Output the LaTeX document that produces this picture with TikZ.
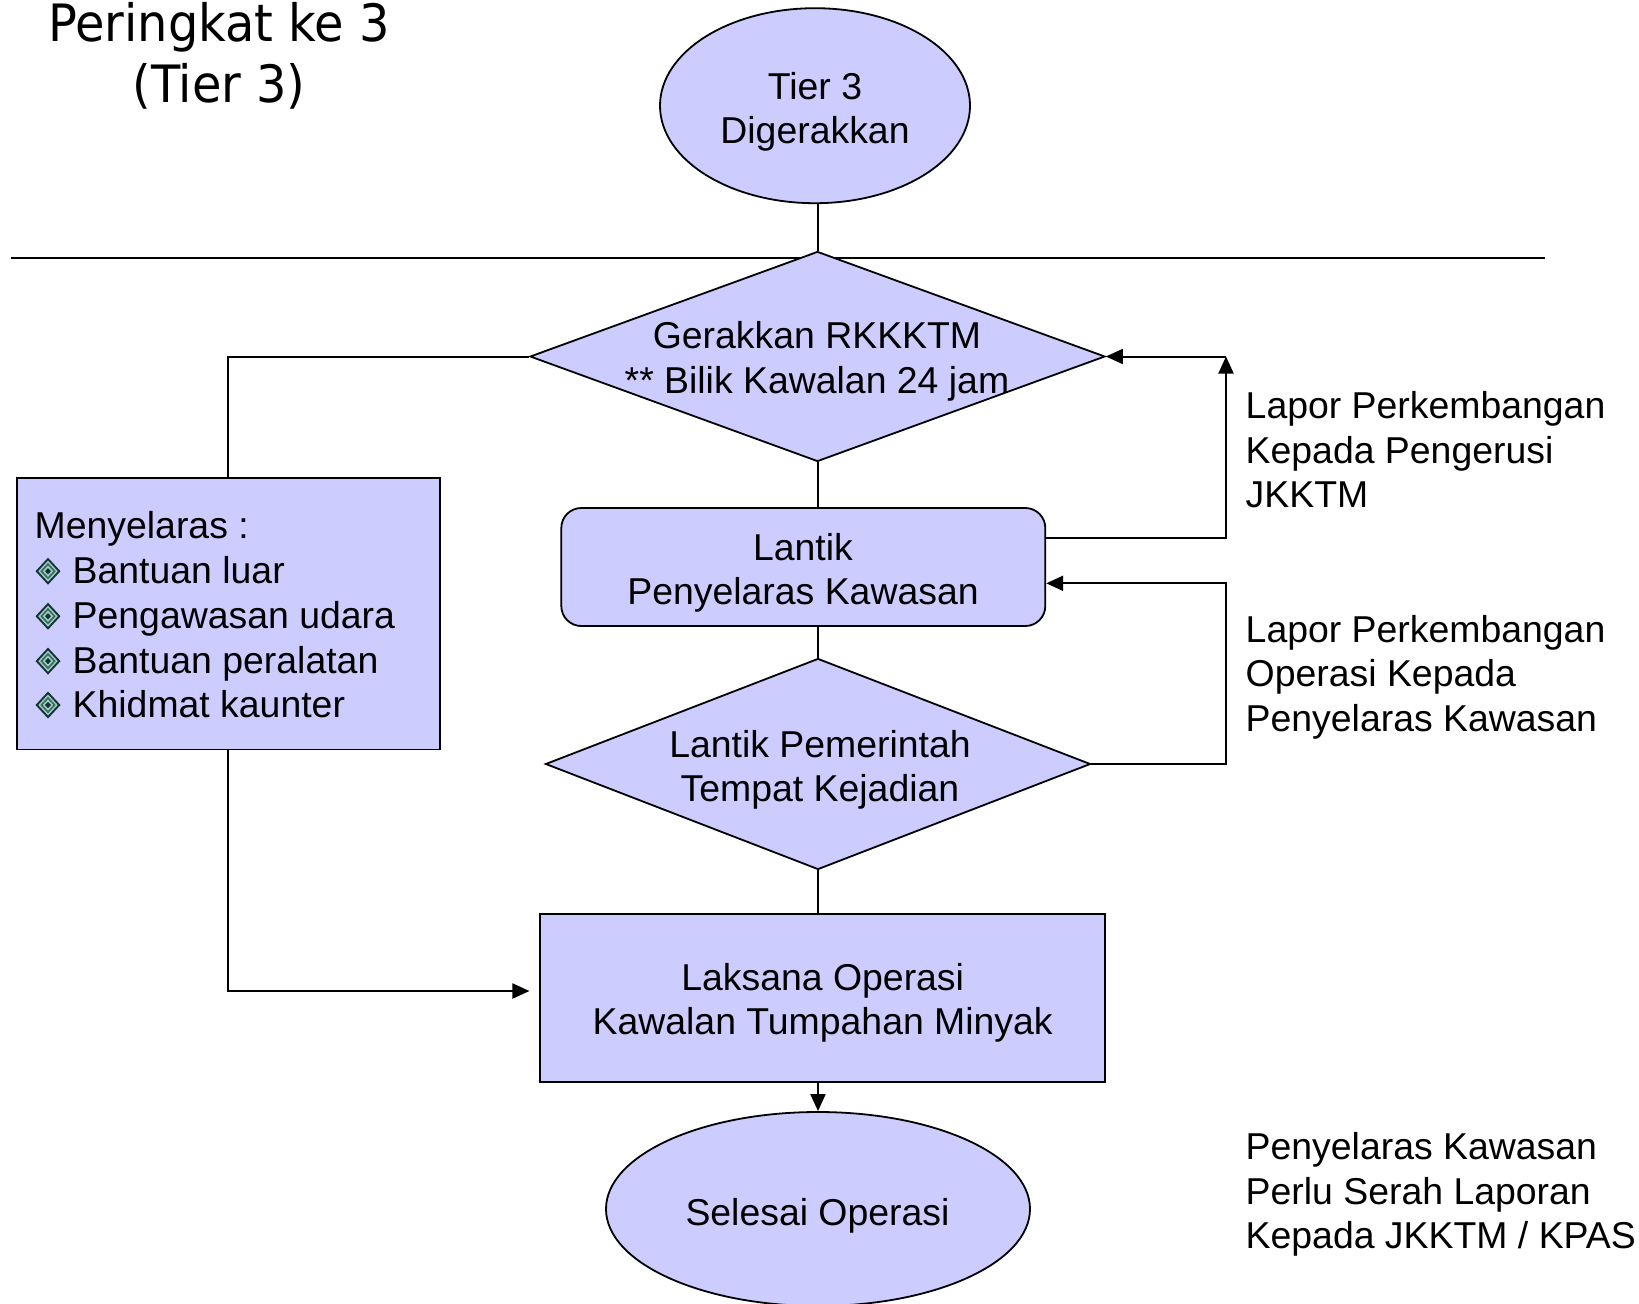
\documentclass[tikz,border=0pt]{standalone}
\usepackage{fontspec}
\setmainfont{Liberation Sans}
\newfontfamily\titlefont{DejaVu Sans}
\usepackage{graphicx}
\usetikzlibrary{shapes.geometric,arrows.meta}
\definecolor{fillc}{RGB}{204,204,255}
\definecolor{bdark}{RGB}{20,50,50}
\definecolor{bmid}{RGB}{50,110,100}
\definecolor{blight}{RGB}{165,205,195}
\begin{document}
\begin{tikzpicture}[x=1pt,y=-1pt,
 shapebox/.style={draw=black,line width=1.8pt,fill=fillc,inner sep=0pt},
 ell/.style={shapebox,ellipse},
 dia/.style={shapebox,diamond},
 rbox/.style={shapebox,rectangle},
 txt/.style={font=\fontsize{37.4}{44.4}\selectfont,align=center,inner sep=0pt},
 ltxt/.style={font=\fontsize{37.4}{44.4}\selectfont,align=left,inner sep=0pt,anchor=west},
 btxt/.style={font=\fontsize{37.4}{44.4}\selectfont,inner sep=0pt,anchor=base west},
 ttl/.style={font=\titlefont\fontsize{51.5}{58}\selectfont,inner sep=0pt,anchor=base},
 conn/.style={line width=2pt},
 arr/.style={line width=2pt,-{Triangle[length=17pt,width=15pt]}},
 bul/.pic={
   \fill[bdark] (0,-13.5)--(12.5,0)--(0,13.5)--(-12.5,0)--cycle;
   \fill[blight] (0,-10.5)--(9.7,0)--(0,10.5)--(-9.7,0)--cycle;
   \fill[bmid] (0,-8.3)--(7.7,0)--(0,8.3)--(-7.7,0)--cycle;
   \fill[blight] (0,-5.6)--(5.2,0)--(0,5.6)--(-5.2,0)--cycle;
   \fill[bdark] (0,-3.2)--(3,0)--(0,3.2)--(-3,0)--cycle;
 },
]
\useasboundingbox (0,0) rectangle (1639,1304);

% title
\node[ttl] (ti1) at (219,41.5) {\scalebox{0.93}[1]{Peringkat ke 3}};
\node[ttl] (ti2) at (219,102) {\scalebox{0.93}[1]{(Tier 3)}};

% separator line
\draw[conn] (10.5,258) -- (1545,258);

% shapes
\node[ell,minimum width=310pt,minimum height=195pt] (e1) at (815,105.7) {};
\node[dia,minimum width=575pt,minimum height=210pt] (d1) at (817.5,356.5) {};
\node[rbox,rounded corners=20pt,minimum width=484pt,minimum height=118pt] (r1) at (803.3,567) {};
\node[dia,minimum width=545pt,minimum height=211pt] (d2) at (818,764) {};
\node[rbox,minimum width=564.5pt,minimum height=168pt] (r2) at (822.6,997.7) {};
\node[ell,minimum width=424pt,minimum height=194pt] (e2) at (818,1209) {};
\node[rbox,minimum width=423.3pt,minimum height=271.8pt] (mb) at (228.3,613.6) {};

% connectors
\draw[conn] (d1.north) -- (d1.north |- e1.south);
\draw[conn] (d1.south) -- (d1.south |- r1.north);
\draw[conn] (d2.north) -- (d2.north |- r1.south);
\draw[conn] (d2.south) -- (d2.south |- r2.north);
\draw[arr] (d2.south |- r2.south) -- (d2.south |- e2.north);
\draw[conn] (d1.west) -| (mb.north);
\draw[arr,shorten >=10pt] (mb.south) |- ([yshift=6.7pt]r2.west);
\coordinate (c1) at (1226,356.5);
\coordinate (c2) at (1226,583.3);
\draw[arr] ([yshift=28.7pt]r1.east) -| (c1);
\draw[arr] (c1) -- (d1.east);
\draw[arr] (d2.east) -| (c2) -- (c2 -| r1.east);

% texts in shapes
\node[txt] (t1) at (815,112) {Tier 3\\Digerakkan};
\node[txt] (t2) at (817,361.5) {Gerakkan RKKKTM\\** Bilik Kawalan 24 jam};
\node[txt] (t3) at (803,572.6) {Lantik\\Penyelaras Kawasan};
\node[txt] (t4) at (820,770) {Lantik Pemerintah\\Tempat Kejadian};
\node[txt] (t5) at (822.7,1002.8) {Laksana Operasi\\Kawalan Tumpahan Minyak};
\node[txt] (t6) at (817.5,1216) {Selesai Operasi};

% side labels
\node[ltxt] (l1) at (1245.5,450) {Lapor Perkembangan\\Kepada Pengerusi\\JKKTM};
\node[ltxt] (l2) at (1245.5,677) {Lapor Perkembangan\\Operasi Kepada\\Penyelaras Kawasan};
\node[ltxt] (l3) at (1245.5,1194.5) {Penyelaras Kawasan\\Perlu Serah Laporan\\Kepada JKKTM / KPAS};

% Menyelaras box content
\node[btxt] (m0) at (34.5,538.8) {Menyelaras :};
\node[btxt] (m1) at (72.5,583.7) {Bantuan luar};
\node[btxt] (m2) at (72.5,628.7) {Pengawasan udara};
\node[btxt] (m3) at (72.5,673.6) {Bantuan peralatan};
\node[btxt] (m4) at (72.5,717.5) {Khidmat kaunter};
\foreach \yy in {583.7,628.7,673.6,717.5}
  \pic at (48,\yy-12.5) {bul};
\end{tikzpicture}
\end{document}
